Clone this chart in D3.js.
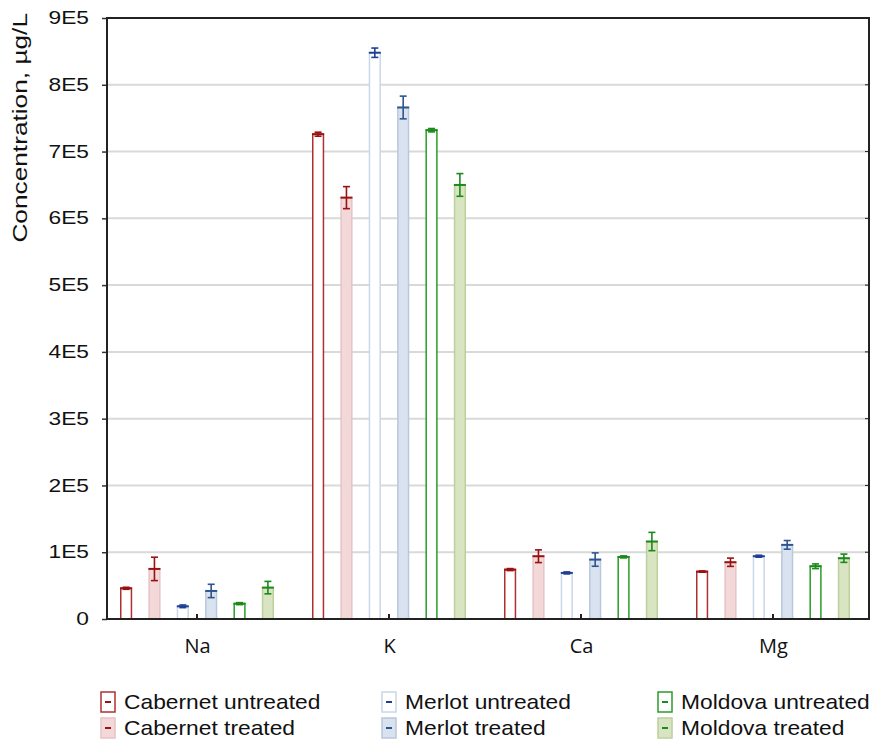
<!DOCTYPE html>
<html><head><meta charset="utf-8">
<script src="https://cdn.jsdelivr.net/npm/d3@7"></script>
<style>body{margin:0;background:#fff;} svg{font-family:"Liberation Sans",Arial,sans-serif;}</style>
</head><body>
<svg id="c" width="880" height="742"></svg>
<script>
const categories = ["Na","K","Ca","Mg"];
const seriesNames = ["Cabernet untreated","Cabernet treated","Merlot untreated","Merlot treated","Moldova untreated","Moldova treated"];
const cabernetUntreated = [46000, 726000, 74000, 71000];
const cabernetTreated   = [75000, 631000, 94000, 85000];
const merlotUntreated   = [19000, 848000, 69000, 94000];
const merlotTreated     = [42000, 766000, 89000, 111000];
const moldovaUntreated  = [23000, 732000, 93000, 79000];
const moldovaTreated    = [47000, 650000, 116000, 91000];
const cabernetUntreatedErr = [1500, 3000, 1500, 1000];
const cabernetTreatedErr   = [17500, 16500, 9500, 6200];
const merlotUntreatedErr   = [2000, 7000, 1500, 1500];
const merlotTreatedErr     = [10000, 17000, 10000, 6500];
const moldovaUntreatedErr  = [1500, 2500, 1500, 3500];
const moldovaTreatedErr    = [9300, 17000, 13700, 6200];
const yTickLabels = ["0","1E5","2E5","3E5","4E5","5E5","6E5","7E5","8E5","9E5"];

const values = [cabernetUntreated,cabernetTreated,merlotUntreated,merlotTreated,moldovaUntreated,moldovaTreated];
const errors = [cabernetUntreatedErr,cabernetTreatedErr,merlotUntreatedErr,merlotTreatedErr,moldovaUntreatedErr,moldovaTreatedErr];
const fills   = ["#ffffff","#f2d8d8","#ffffff","#d9e3f0","#ffffff","#d9e5c2"];
const strokes = ["#b03030","#e6c3c3","#c9d7ea","#b9c8dc","#2a9d2a","#bccf9c"];
const errCol  = ["#9b1010","#9b1010","#1f3f96","#2f5590","#1a8a1a","#1a8a1a"];

const svg = d3.select("#c");
const L=107, R=869, T=18, B=619;
const y = d3.scaleLinear().domain([0,900000]).range([B,T]);
const x = d3.scalePoint().domain(categories).range([197,773]);
const xs = d3.scaleBand().domain(d3.range(6)).range([-77,77]).paddingInner(0.57);

// grid
svg.append("g").selectAll("line").data(d3.range(1,9)).join("line")
  .attr("x1",L).attr("x2",R).attr("y1",d=>y(d*100000)).attr("y2",d=>y(d*100000))
  .attr("stroke","#d9d9d9").attr("stroke-width",2);

// y axis
const yAxis = d3.axisLeft(y).tickValues(d3.range(0,900001,100000)).tickSize(5).tickPadding(0)
  .tickFormat((d,i)=>yTickLabels[i]);
const gy = svg.append("g").attr("transform",`translate(${L},0)`).call(yAxis);
gy.select(".domain").remove();
gy.selectAll("text").attr("font-size",17.5).attr("fill","#111").attr("x",null)
  .attr("transform","translate(-18,0) scale(1.3,1)");
gy.selectAll("line").attr("stroke","#333").attr("stroke-width",1.5);
// right ticks
svg.append("g").selectAll("line").data(d3.range(1,9)).join("line")
  .attr("x1",R-4).attr("x2",R).attr("y1",d=>y(d*100000)).attr("y2",d=>y(d*100000)).attr("stroke","#222");

// bars
categories.forEach((c,ci)=>{
  values.forEach((vals,si)=>{
    const bx = x(c)+xs(si);
    const w = xs.bandwidth();
    svg.append("rect").attr("x",bx+0.75).attr("y",y(vals[ci])).attr("width",w-1.5)
      .attr("height",B-y(vals[ci])).attr("fill",fills[si]).attr("stroke",strokes[si]).attr("stroke-width",1.5);
    const cx = bx+w/2, e=errors[si][ci], v=vals[ci];
    const g = svg.append("g").attr("stroke",errCol[si]).attr("stroke-width",1.6);
    g.append("line").attr("x1",cx).attr("x2",cx).attr("y1",y(v+e)).attr("y2",y(v-e));
    g.append("line").attr("x1",cx-3.5).attr("x2",cx+3.5).attr("y1",y(v+e)).attr("y2",y(v+e));
    g.append("line").attr("x1",cx-3.5).attr("x2",cx+3.5).attr("y1",y(v-e)).attr("y2",y(v-e));
    g.append("line").attr("x1",cx-6).attr("x2",cx+6).attr("y1",y(v)).attr("y2",y(v)).attr("stroke-width",2);
  });
});

// x axis
const xAxis = d3.axisBottom(x).tickSize(0).tickPadding(20);
const gx = svg.append("g").attr("transform",`translate(0,${B})`).call(xAxis);
gx.select(".domain").remove();
gx.selectAll("text").attr("font-size",20).attr("fill","#111").attr("font-family","'Open Sans',sans-serif");
svg.append("g").selectAll("line").data(categories).join("line")
  .attr("x1",d=>x(d)).attr("x2",d=>x(d)).attr("y1",B).attr("y2",B-5).attr("stroke","#222").attr("stroke-width",2);

// frame
svg.append("rect").attr("x",L).attr("y",T).attr("width",R-L).attr("height",B-T)
  .attr("fill","none").attr("stroke","#222").attr("stroke-width",2);

// y title
svg.append("text").attr("transform",`translate(27,13) rotate(-90) scale(1.25,1)`).attr("text-anchor","end")
  .attr("font-size",21).attr("fill","#111").text("Concentration, µg/L");

// legend
const legX=[101,382,658], legY=[702,728];
seriesNames.forEach((n,i)=>{
  const col=Math.floor(i/2), row=i%2;
  const lx=legX[col], ly=legY[row];
  svg.append("rect").attr("x",lx).attr("y",ly-10).attr("width",14).attr("height",20)
    .attr("fill",fills[i]).attr("stroke",strokes[i]).attr("stroke-width",1.5);
  svg.append("line").attr("x1",lx+4).attr("x2",lx+10).attr("y1",ly).attr("y2",ly)
    .attr("stroke",errCol[i]).attr("stroke-width",2);
  svg.append("text").attr("transform",`translate(${lx+23},${ly+7}) scale(1.14,1)`)
    .attr("font-size",20).attr("fill","#111").text(n);
});
</script>
</body></html>
